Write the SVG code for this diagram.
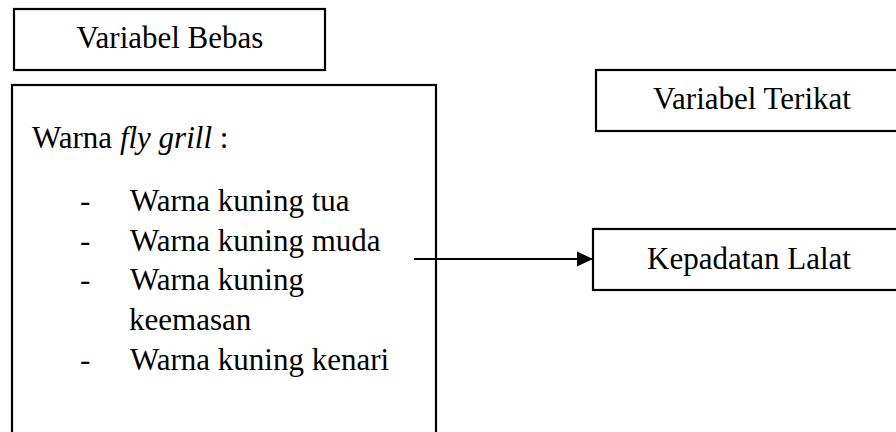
<svg xmlns="http://www.w3.org/2000/svg" width="896" height="432" viewBox="0 0 896 432">
<style>
.box{fill:#fff;stroke:#000;stroke-width:2.2}
.t{font-family:"Liberation Serif","Times New Roman",serif;font-size:31px;fill:#000}
.conn{stroke:#000;stroke-width:2;fill:none}
</style>
<defs>
<marker id="arr" markerWidth="16" markerHeight="16" refX="16" refY="8" orient="auto" markerUnits="userSpaceOnUse">
<path d="M0,0.5 L16,8 L0,15.5 Z" fill="#000"/>
</marker>
</defs>
<rect width="896" height="432" fill="#fff"/>
<g id="variabel-bebas">
<rect class="box" x="14" y="9" width="311" height="61"/>
<text class="t" x="170" y="48" text-anchor="middle">Variabel Bebas</text>
</g>
<g id="warna-fly-grill">
<rect class="box" x="12" y="85" width="424" height="370"/>
<text class="t" x="32" y="148">Warna <tspan font-style="italic">fly grill</tspan> :</text>
<text class="t" x="80" y="211">-</text>
<text class="t" x="130" y="211">Warna kuning tua</text>
<text class="t" x="80" y="251">-</text>
<text class="t" x="130" y="251">Warna kuning muda</text>
<text class="t" x="80" y="290">-</text>
<text class="t" x="130" y="290">Warna kuning</text>
<text class="t" x="129" y="330">keemasan</text>
<text class="t" x="80" y="370">-</text>
<text class="t" x="130" y="370">Warna kuning kenari</text>
</g>
<g id="variabel-terikat">
<rect class="box" x="596" y="70" width="320" height="61"/>
<text class="t" x="752" y="109" text-anchor="middle">Variabel Terikat</text>
</g>
<g id="kepadatan-lalat">
<rect class="box" x="593" y="229" width="320" height="61"/>
<text class="t" x="749" y="269" text-anchor="middle">Kepadatan Lalat</text>
</g>
<g id="connectors">
<line class="conn" x1="414" y1="259" x2="593" y2="259" marker-end="url(#arr)"/>
</g>
</svg>
